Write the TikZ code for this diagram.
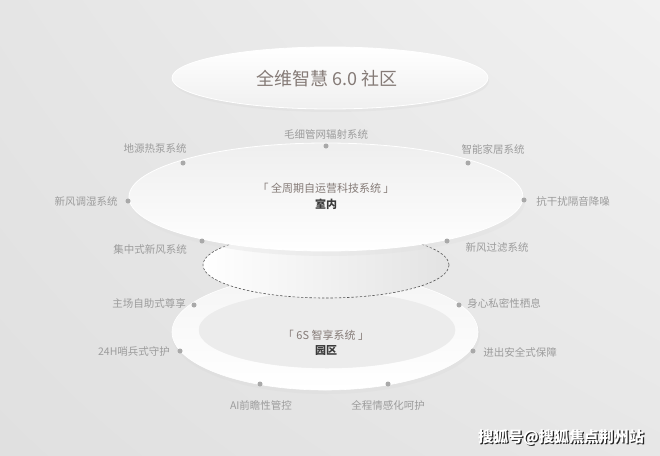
\documentclass[tikz,border=0pt]{standalone}
\usepackage{fontspec}
\usetikzlibrary{shadings}
\newfontfamily\cjk{Noto Sans CJK SC}
\definecolor{lblc}{HTML}{9C9C9C}
\definecolor{ttlc}{HTML}{857B77}
\definecolor{dotc}{HTML}{A9A9A9}
\definecolor{darkc}{HTML}{3A3A3A}
\definecolor{dashc}{HTML}{555555}
\definecolor{bgUL}{HTML}{E5E5E5}
\definecolor{bgUR}{HTML}{F1F1F1}
\definecolor{bgLL}{HTML}{E0E0E0}
\definecolor{bgLR}{HTML}{E7E7E7}
\definecolor{shadowc}{HTML}{222222}
\tikzset{
  dotn/.style={circle, fill=dotc, inner sep=0pt, minimum size=5pt},
  lbl/.style={font=\cjk\fontsize{10.5}{12}\selectfont, text=lblc, inner sep=0pt},
  sysname/.style={font=\cjk\fontsize{11}{13}\selectfont, text=ttlc, inner sep=0pt},
  place/.style={font=\cjk\bfseries\fontsize{11}{13}\selectfont, text=darkc, inner sep=0pt},
  wm/.style={font=\cjk\bfseries\fontsize{15}{17}\selectfont, inner sep=0pt},
}
\begin{document}
\begin{tikzpicture}[x=1pt,y=-1pt]
\useasboundingbox (0,0) rectangle (660,455);
% background
\shade[upper left=bgUL, upper right=bgUR, lower left=bgLL, lower right=bgLR]
  (0,0) rectangle (660,455);
% lower ring
\fill[gray!30, opacity=0.3] (326,335) ellipse [x radius=154pt, y radius=59pt];
\shade[top color=gray!8, bottom color=white, draw=white, line width=0.6pt]
  (325,332) ellipse [x radius=153pt, y radius=58pt];
\fill[gray!15, draw=white!85!gray, line width=0.5pt]
  (327,330) ellipse [x radius=128pt, y radius=38pt];
% dashed cylinder ellipse
\shade[left color=white, right color=gray!22, draw=dashc, dash pattern=on 2.4pt off 1.8pt, line width=0.6pt]
  (326,265) ellipse [x radius=123pt, y radius=33pt];
% middle ellipse
\fill[gray!25, opacity=0.35] (328,201) ellipse [x radius=197pt, y radius=55pt];
\shade[top color=gray!13, bottom color=white, draw=white, line width=0.8pt]
  (326,197) ellipse [x radius=197pt, y radius=54pt];
% top ellipse
\fill[gray!30, opacity=0.35] (331,81) ellipse [x radius=158pt, y radius=31pt];
\shade[top color=white, bottom color=gray!12, draw=white, line width=0.8pt]
  (330,78) ellipse [x radius=158pt, y radius=31pt];

% texts in ellipses
\node[font=\cjk\fontsize{18}{20}\selectfont, text=ttlc, inner sep=0pt] (title) at (327,79) {全维智慧 6.0 社区};
\node[sysname] (indoorSys) at (326,188) {「 全周期自运营科技系统 」};
\node[place] (indoor) at (326,204) {室内};
\node[sysname] (parkSys) at (326,335) {「 6S 智享系统 」};
\node[place] (park) at (326,351) {园区};

% dots on the middle ellipse
\node[dotn] (m1) at (183,163) {};
\node[dotn] (m2) at (326,146) {};
\node[dotn] (m3) at (468,163) {};
\node[dotn] (m4) at (128,201) {};
\node[dotn] (m5) at (524,200) {};
\node[dotn] (m6) at (202,241) {};
\node[dotn] (m7) at (447,241) {};
% labels of the middle ellipse
\node[lbl] (t1) at (155,149) {地源热泵系统};
\node[lbl] (t2) at (326,134) {毛细管网辐射系统};
\node[lbl] (t3) at (493,149) {智能家居系统};
\node[lbl] (t4) at (86,201) {新风调湿系统};
\node[lbl] (t5) at (573,201) {抗干扰隔音降噪};
\node[lbl] (t6) at (150,249) {集中式新风系统};
\node[lbl] (t7) at (497,248) {新风过滤系统};

% dots on the ring
\node[dotn] (r1) at (194,305) {};
\node[dotn] (r2) at (180,351) {};
\node[dotn] (r3) at (260,384) {};
\node[dotn] (r4) at (388,384) {};
\node[dotn] (r5) at (473,351) {};
\node[dotn] (r6) at (459,305) {};
% labels of the ring
\node[lbl] (s1) at (149,303) {主场自助式尊享};
\node[lbl] (s2) at (134,351) {24H哨兵式守护};
\node[lbl] (s3) at (261,405) {AI前瞻性管控};
\node[lbl] (s4) at (388,405) {全程情感化呵护};
\node[lbl] (s5) at (520,352) {进出安全式保障};
\node[lbl] (s6) at (504,303) {身心私密性栖息};

% watermark with drop shadow
\node[wm, text=shadowc] (wmshadow) at (562.2,438.2) {搜狐号@搜狐焦点荆州站};
\node[wm, text=white] (wmk) at (561,437) {搜狐号@搜狐焦点荆州站};
\end{tikzpicture}
\end{document}
